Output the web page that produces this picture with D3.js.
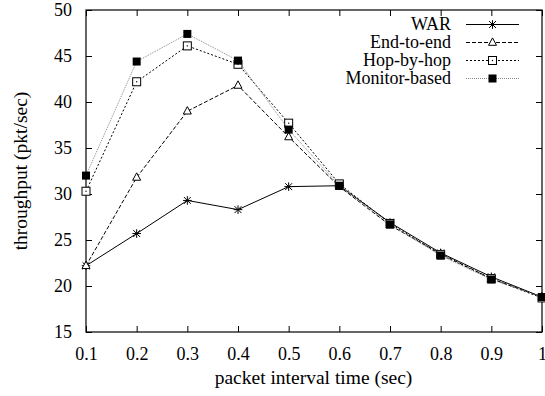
<!DOCTYPE html>
<html>
<head>
<meta charset="utf-8">
<script src="https://cdn.jsdelivr.net/npm/d3@7"></script>
<style>
  html, body { margin: 0; padding: 0; background: #fff; }
  svg { display: block; }
  text { font-family: "Liberation Serif", "DejaVu Serif", serif; fill: #000; }
</style>
</head>
<body>
<svg id="chart" width="545" height="396"></svg>
<script>
// Packet interval time (sec)
const intervals = [0.1, 0.2, 0.3, 0.4, 0.5, 0.6, 0.7, 0.8, 0.9, 1.0];

// Throughput (pkt/sec) per scheme
const war        = [22.2, 25.7, 29.3, 28.3, 30.8, 30.9, 26.9, 23.6, 21.0, 18.8];
const endToEnd   = [22.2, 31.8, 39.0, 41.8, 36.2, 30.8, 26.6, 23.5, 20.8, 18.8];
const hopByHop   = [30.3, 42.2, 46.1, 44.1, 37.7, 31.1, 26.8, 23.4, 20.8, 18.7];
const monitor    = [32.0, 44.4, 47.4, 44.5, 37.0, 30.9, 26.7, 23.3, 20.7, 18.8];

const seriesNames = ["WAR", "End-to-end", "Hop-by-hop", "Monitor-based"];

const xTicks = [0.1, 0.2, 0.3, 0.4, 0.5, 0.6, 0.7, 0.8, 0.9, 1];
const yTicks = [15, 20, 25, 30, 35, 40, 45, 50];

const series = [
  { name: seriesNames[0], values: war,      stroke: "#000", dash: null,  marker: "star" },
  { name: seriesNames[1], values: endToEnd, stroke: "#000", dash: "4,2", marker: "triangle" },
  { name: seriesNames[2], values: hopByHop, stroke: "#000", dash: "2,2", marker: "openSquare" },
  { name: seriesNames[3], values: monitor,  stroke: "#888", dash: "1,1", marker: "filledSquare" }
];

const svg = d3.select("#chart");
const margin = { left: 86, right: 3, top: 10, bottom: 64 };
const W = 545, H = 396;
const tickFont = 18, titleFont = 19.5, legendFont = 18;

const x = d3.scaleLinear().domain([0.1, 1]).range([margin.left, W - margin.right]);
const y = d3.scaleLinear().domain([15, 50]).range([H - margin.bottom, margin.top]);

const x0 = x.range()[0], x1 = x.range()[1];
const y0 = y.range()[0], y1 = y.range()[1];
const tickLen = 6;

// Axes with inward ticks, mirrored on the opposite sides
const gAxes = svg.append("g");
const axisB = d3.axisBottom(x).tickValues(xTicks).tickFormat(d => d === 1 ? "1" : d3.format(".1f")(d))
  .tickSizeInner(-tickLen).tickSizeOuter(0).tickPadding(15);
const axisL = d3.axisLeft(y).tickValues(yTicks).tickFormat(d3.format("d"))
  .tickSizeInner(-tickLen).tickSizeOuter(0).tickPadding(14);
const axisT = d3.axisTop(x).tickValues(xTicks).tickFormat("").tickSizeInner(-tickLen).tickSizeOuter(0);
const axisR = d3.axisRight(y).tickValues(yTicks).tickFormat("").tickSizeInner(-tickLen).tickSizeOuter(0);

function styleAxis(g) {
  g.attr("font-family", null).attr("font-size", null);
  g.select(".domain").remove();
  g.selectAll("line").attr("stroke", "#000").attr("stroke-width", 1);
  g.selectAll("text").attr("font-size", tickFont);
}

gAxes.append("g").attr("transform", `translate(0,${y0})`).call(axisB).call(styleAxis);
gAxes.append("g").attr("transform", `translate(${x0},0)`).call(axisL).call(styleAxis);
gAxes.append("g").attr("transform", `translate(0,${y1})`).call(axisT).call(styleAxis);
gAxes.append("g").attr("transform", `translate(${x1},0)`).call(axisR).call(styleAxis);

// Plot frame
svg.append("rect")
  .attr("x", x0).attr("y", y1).attr("width", x1 - x0).attr("height", y0 - y1)
  .attr("fill", "none").attr("stroke", "#000").attr("stroke-width", 1.2);

// Axis titles
svg.append("text")
  .attr("x", (x0 + x1) / 2 - 0.5).attr("y", 384)
  .attr("text-anchor", "middle").attr("font-size", titleFont)
  .text("packet interval time (sec)");

svg.append("text")
  .attr("transform", `translate(27,${(y0 + y1) / 2}) rotate(-90)`)
  .attr("text-anchor", "middle").attr("font-size", titleFont)
  .text("throughput (pkt/sec)");

// Marker drawing
const mr = 4;
function drawMarker(g, type, cx, cy) {
  if (type === "star") {
    const r = mr + 0.3;
    g.append("path")
      .attr("d", `M${cx - r},${cy}H${cx + r}M${cx},${cy - r}V${cy + r}` +
                 `M${cx - r * 0.8},${cy - r * 0.8}L${cx + r * 0.8},${cy + r * 0.8}` +
                 `M${cx - r * 0.8},${cy + r * 0.8}L${cx + r * 0.8},${cy - r * 0.8}`)
      .attr("stroke", "#000").attr("stroke-width", 1).attr("fill", "none");
  } else if (type === "triangle") {
    const r = mr;
    g.append("path")
      .attr("d", `M${cx},${cy - r * 1.15}L${cx + r},${cy + r * 0.7}L${cx - r},${cy + r * 0.7}Z`)
      .attr("stroke", "#000").attr("stroke-width", 1).attr("fill", "#fff");
  } else if (type === "openSquare") {
    const r = mr;
    g.append("rect")
      .attr("x", cx - r).attr("y", cy - r).attr("width", 2 * r).attr("height", 2 * r)
      .attr("stroke", "#000").attr("stroke-width", 1).attr("fill", "#fff");
    g.append("rect")
      .attr("x", cx - 0.6).attr("y", cy - 0.6).attr("width", 1.2).attr("height", 1.2)
      .attr("fill", "#000");
  } else if (type === "filledSquare") {
    const r = mr;
    g.append("rect")
      .attr("x", cx - r).attr("y", cy - r).attr("width", 2 * r).attr("height", 2 * r)
      .attr("fill", "#000");
  }
}

const line = d3.line().x((d, i) => x(intervals[i])).y(d => y(d));

series.forEach(s => {
  const g = svg.append("g");
  g.append("path")
    .datum(s.values)
    .attr("d", line)
    .attr("fill", "none")
    .attr("stroke", s.stroke)
    .attr("stroke-width", 1)
    .attr("stroke-dasharray", s.dash);
  s.values.forEach((v, i) => drawMarker(g, s.marker, x(intervals[i]), y(v)));
});

// Legend
const legend = svg.append("g");
const legTextX = 451, legLineX0 = 466, legLineX1 = 519, legMarkX = 492.5;
series.forEach((s, i) => {
  const base = 30 + i * 18;
  const cy = base - 5.5;
  legend.append("text")
    .attr("x", legTextX).attr("y", base)
    .attr("text-anchor", "end").attr("font-size", legendFont)
    .text(s.name);
  legend.append("line")
    .attr("x1", legLineX0).attr("x2", legLineX1).attr("y1", cy).attr("y2", cy)
    .attr("stroke", s.stroke).attr("stroke-width", 1)
    .attr("stroke-dasharray", s.dash);
  drawMarker(legend, s.marker, legMarkX, cy);
});
</script>
</body>
</html>
